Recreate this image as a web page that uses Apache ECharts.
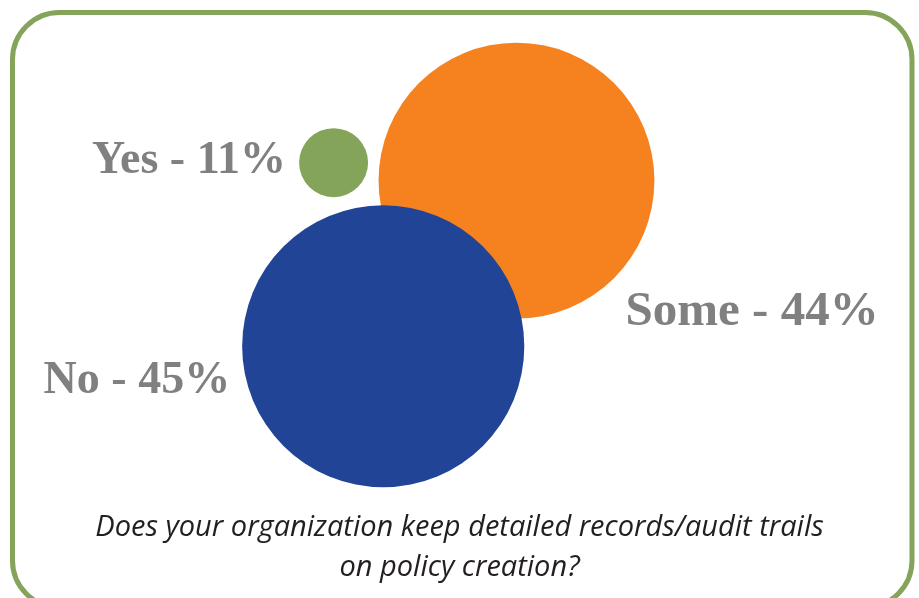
<!DOCTYPE html>
<html>
<head>
<meta charset="utf-8">
<script src="https://cdn.jsdelivr.net/npm/echarts@6/dist/echarts.min.js"></script>
<style>
    html, body { margin: 0; padding: 0; background: #fff; }
    #PolicyChart { width: 919px; height: 598px; }
</style>
</head>
<body>
<div id="PolicyChart"></div>
<script>
// answers and their share (%)
const answers = ['Some', 'No', 'Yes'];
const shares = [44, 45, 11];
// where each bubble sits on the hidden 0-100 axes
const bubbleX = [56.2, 41.7, 36.3];
const bubbleY = [30.2, 57.9, 27.2];
const bubbleColors = ['#f5821f', '#214497', '#84a45a'];

const question = 'Does your organization keep detailed records/audit trails\non policy creation?';

// label placement per answer
const labelPos = {
    Some: { position: [247, 270], align: 'left', verticalAlign: 'middle', fontSize: 49 },
    No: { position: 'left', distance: 12, offset: [0, 35] },
    Yes: { position: 'left', distance: 13, offset: [0, -2] }
};

policyChart = () => {
    var chartDom = document.getElementById('PolicyChart');
    var myChart = echarts.init(chartDom);
    var option;

    option = {
        animation: false,
        title: {
            text: question,
            left: 'center',
            top: 503,
            textStyle: {
                fontFamily: 'Open Sans',
                fontStyle: 'italic',
                fontWeight: 'normal',
                fontSize: 29,
                lineHeight: 40,
                color: '#231f20'
            }
        },
        graphic: [
            {
                type: 'rect',
                z: -1,
                shape: { x: 12.5, y: 12.5, width: 899.5, height: 595, r: 47 },
                style: { fill: 'none', stroke: '#83a45a', lineWidth: 5 }
            }
        ],
        grid: { left: 0, right: 0, top: 0, bottom: 0 },
        xAxis: { type: 'value', min: 0, max: 100, show: false },
        yAxis: { type: 'value', min: 0, max: 100, inverse: true, show: false },
        series: [
            {
                type: 'scatter',
                symbol: 'circle',
                // diameter follows the share
                symbolSize: (val) => val[2] * 6.27,
                data: answers.map((name, i) => ({
                    name: name,
                    value: [bubbleX[i], bubbleY[i], shares[i]],
                    itemStyle: { color: bubbleColors[i], opacity: 1 },
                    label: Object.assign({ show: true }, labelPos[name])
                })),
                label: {
                    formatter: (p) => p.name + ' - ' + p.value[2] + '%',
                    fontFamily: 'Liberation Serif',
                    fontWeight: 'bold',
                    fontSize: 46,
                    color: '#808080'
                },
                emphasis: { disabled: true }
            }
        ]
    };

    option && myChart.setOption(option);
}

policyChart();
</script>
</body>
</html>
